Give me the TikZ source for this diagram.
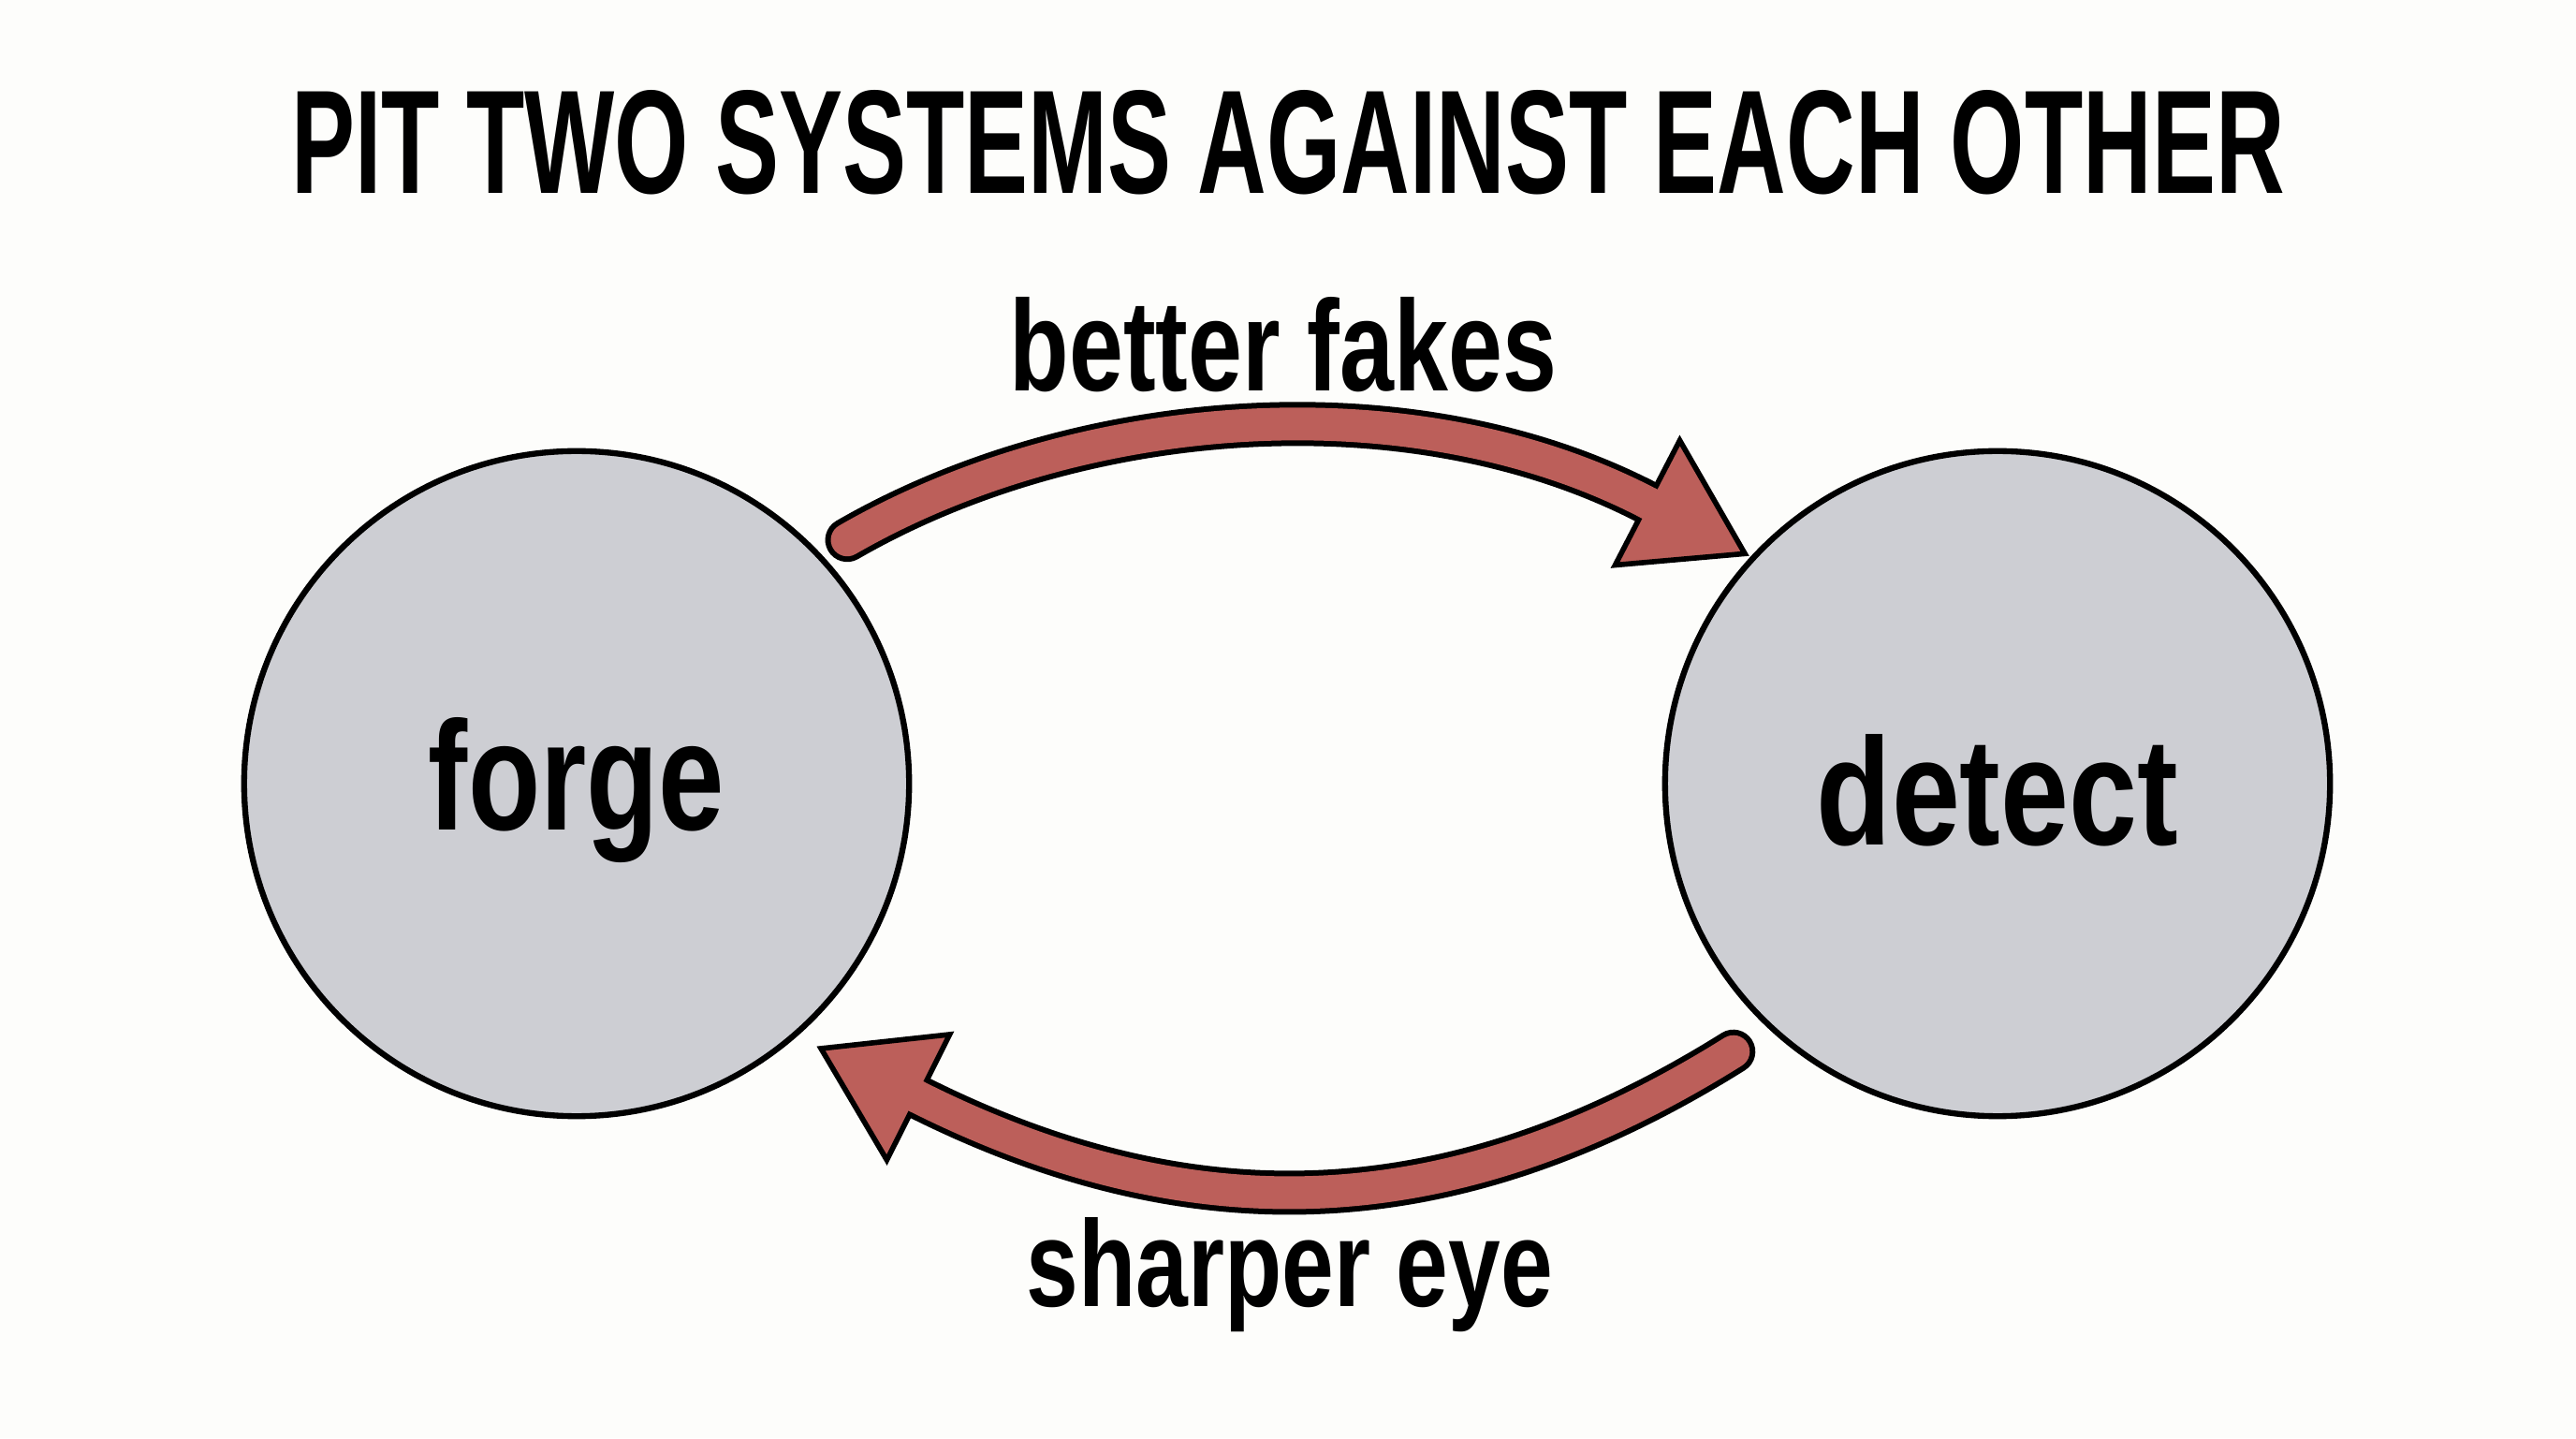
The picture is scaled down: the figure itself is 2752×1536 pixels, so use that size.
\documentclass[tikz,border=0pt]{standalone}
\usepackage{fontspec}
\setmainfont{Liberation Sans}
\usepackage{graphicx}
\usetikzlibrary{calc}
\definecolor{bgc}{HTML}{FDFDFB}
\definecolor{circfill}{HTML}{CDCED3}
\definecolor{arrred}{HTML}{BC5F5A}
\tikzset{
  x=0.01cm, y=0.01cm,
  bubble/.style={circle, draw=black, line width=1.8pt, fill=circfill, minimum size=7.1cm, inner sep=0pt},
  shaftout/.style={draw=black, line width=0.47cm, line cap=round},
  shaftin/.style={draw=arrred, line width=0.35cm},
  headtri/.style={fill=arrred, draw=black, line width=1.6pt, line join=miter},
  lbl/.style={inner sep=0pt}
}
\begin{document}
\begin{tikzpicture}
\fill[bgc] (0,0) rectangle (2752,1536);
\useasboundingbox (0,0) rectangle (2752,1536);

% title
\node[lbl] (title) at (1376,1384) {\resizebox{21.28cm}{1.1cm}{\bfseries PIT TWO SYSTEMS AGAINST EACH OTHER}};

% circles
\node[bubble] (forge) at (616,699) {};
\node[bubble] (detect) at (2134,699) {};
\node[lbl] (forgetxt) at ([yshift=-2]forge.center) {\resizebox{3.16cm}{1.2cm}{\bfseries forge}};
\node[lbl] (detecttxt) at ([yshift=-2]detect.center) {\resizebox{3.86cm}{1.18cm}{\bfseries detect}};

% upper arrow: forge -> detect
\coordinate (t1) at ($(forge.center)+(42:389)$);
\coordinate (b1) at (1760,999);
\coordinate (p1) at ($(detect.center)+(137.7:365)$);
\coordinate (h1a) at ($(b1)+(62.6:75)$);
\coordinate (h1b) at ($(b1)+(-117.4:75)$);
\path[shaftout] (t1) to[out=30,in=152.6,looseness=0.85] (b1);
\filldraw[headtri] (h1a) -- (p1) -- (h1b) -- cycle;
\path[shaftin, line cap=round] (t1) to[out=30,in=152.6,looseness=0.85] (b1);
\path[draw=arrred, line width=0.35cm] (b1) -- ($(b1)+(-27.4:10)$);

% lower arrow: detect -> forge
\coordinate (t2) at ($(detect.center)+(225.4:402)$);
\coordinate (b2) at (981,364);
\coordinate (p2) at ($(forge.center)+(-47.3:385)$);
\coordinate (h2a) at ($(b2)+(63.4:75)$);
\coordinate (h2b) at ($(b2)+(-116.6:75)$);
\path[shaftout] (t2) to[out=212,in=-26.6] (b2);
\filldraw[headtri] (h2a) -- (p2) -- (h2b) -- cycle;
\path[shaftin, line cap=round] (t2) to[out=212,in=-26.6] (b2);
\path[draw=arrred, line width=0.35cm] (b2) -- ($(b2)+(153.4:10)$);

% labels
\node[lbl, anchor=base] (lblup) at (1371,1118) {\resizebox{5.84cm}{1.0cm}{\bfseries better fakes}};
\node[lbl, anchor=base] (lbldown) at (1378,141) {\resizebox{5.62cm}{0.95cm}{\bfseries sharper eye}};
\end{tikzpicture}
\end{document}
